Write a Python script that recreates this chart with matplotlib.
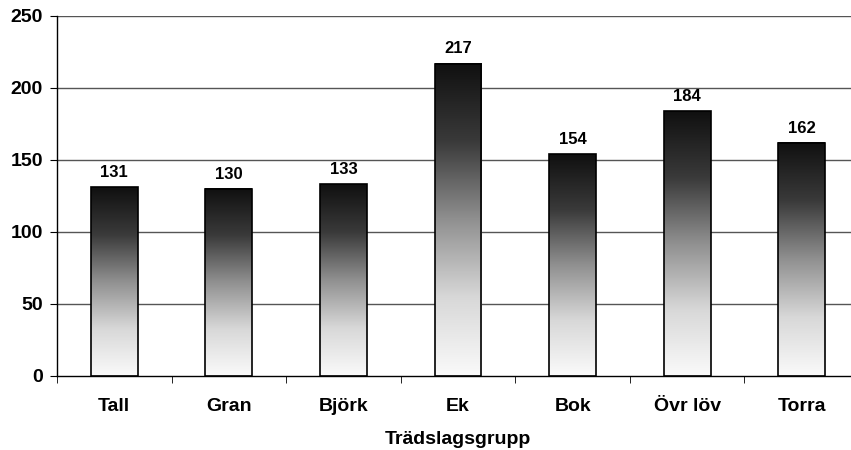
import numpy as np
import matplotlib.pyplot as plt
from matplotlib.patches import Rectangle
from matplotlib.colors import LinearSegmentedColormap

plt.rcParams['font.family'] = ['Liberation Sans', 'DejaVu Sans']
plt.rcParams['font.weight'] = 'bold'

groups = ['Tall', 'Gran', 'Björk', 'Ek', 'Bok', 'Övr löv', 'Torra']
values = [131, 130, 133, 217, 154, 184, 162]

fig = plt.figure(figsize=(8.51, 4.5), dpi=100)
ax = fig.add_axes([57 / 851, 74 / 450, 802 / 851, 360 / 450])

# vertical shading: dark at the top, almost white at the base
cmap = LinearSegmentedColormap.from_list('shade', ['#fafafa', '#d8d8d8', '#909090', '#3a3a3a', '#101010'])
grad = np.linspace(0, 1, 256).reshape(-1, 1)
w = 0.41
x = np.arange(len(groups))

for yv in range(50, 251, 50):
    ax.axhline(yv, color='#555555', lw=1, zorder=0)

for xi, v in zip(x, values):
    ax.imshow(grad, cmap=cmap, origin='lower', aspect='auto',
              extent=[xi - w / 2, xi + w / 2, 0, v], zorder=2)
    ax.add_patch(Rectangle((xi - w / 2, 0), w, v, fill=False, ec='black', lw=1.2, zorder=3))
    ax.text(xi, v + 5, str(v), ha='center', va='bottom', fontsize=12, fontweight='bold')

ax.set_xlim(-0.5, len(groups) - 0.5)
ax.set_ylim(0, 250)
ax.set_yticks(range(0, 251, 50))
ax.set_xticks(x)
ax.set_xticklabels(groups, fontsize=14, fontweight='bold')
ax.set_xticks(np.arange(-0.5, len(groups), 1), minor=True)
ax.tick_params(axis='x', which='major', length=0, pad=16)
ax.tick_params(axis='x', which='minor', length=5, direction='out', color='black')
ax.tick_params(axis='y', length=5, direction='out', labelsize=14, pad=5)
for lbl in ax.get_yticklabels():
    lbl.set_fontweight('bold')

for s in ['top', 'right']:
    ax.spines[s].set_visible(False)
ax.spines['left'].set_linewidth(1)
ax.spines['bottom'].set_linewidth(1)

ax.set_xlabel('Trädslagsgrupp', fontsize=14, fontweight='bold', labelpad=11)

fig.savefig('out.png', dpi=100)
